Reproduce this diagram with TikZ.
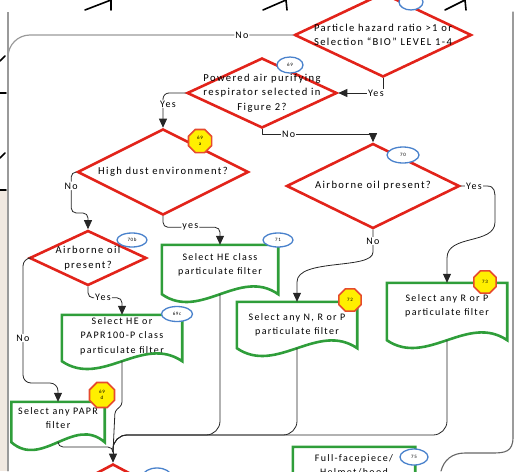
\documentclass[tikz,border=0pt]{standalone}
\usepackage{fontspec}
\setmainfont{Carlito}[LetterSpace=13]
\usetikzlibrary{shapes.geometric,arrows.meta,calc}
\definecolor{flowred}{HTML}{E2231A}
\definecolor{flowgreen}{HTML}{2F9E3A}
\definecolor{flowblue}{HTML}{4A82CC}
\definecolor{octyellow}{HTML}{FFEF00}
\definecolor{octedge}{HTML}{E64A2E}
\definecolor{framegrey}{HTML}{9A9A9A}
\definecolor{pagetint}{HTML}{F1E9E1}
\tikzstyle{every node}=[font=\fontsize{10}{14.5}\selectfont]
\tikzstyle{decision}=[diamond,draw=flowred,line width=2.6pt,line join=miter,inner sep=0pt]
\tikzstyle{dtext}=[align=center,font=\fontsize{10.6}{14.5}\selectfont]
\tikzstyle{docbox}=[rectangle,inner sep=0pt]
\tikzstyle{doctext}=[align=center]
\tikzstyle{docline}=[draw=flowgreen,line width=2.6pt,line join=miter]
\tikzstyle{tagoval}=[ellipse,draw=flowblue,fill=white,line width=1.3pt,inner sep=0pt,minimum width=28pt,minimum height=16pt,font=\fontsize{5}{6}\selectfont]
\tikzstyle{tagoct}=[regular polygon,regular polygon sides=8,draw=octedge,fill=octyellow,line width=1.6pt,inner sep=0pt,minimum size=25pt,align=center,font=\fontsize{5}{5.5}\selectfont]
\tikzstyle{flow}=[draw=black!85,line width=0.8pt,line cap=round,line join=round]
\tikzstyle{flowarrow}=[flow,-{Triangle[length=9pt,width=8pt]}]
\tikzstyle{lbl}=[fill=white,inner sep=1pt]

% outline of a document box, wavy bottom
\newcommand{\docoutline}[1]{%
  \draw[docline] (#1.north west) -- (#1.north east) -- (#1.south east)
    .. controls ($(#1.south east)!0.33!(#1.south west)+(0,-27)$) and ($(#1.south east)!0.67!(#1.south west)+(0,27)$) .. (#1.south west) -- cycle;}

\begin{document}
\begin{tikzpicture}[x=1pt,y=-1pt]
    \useasboundingbox (0,0) rectangle (526,471);
    \clip (0,0) rectangle (526,471);

    % page edge and stray marks
    \fill[pagetint] (0,190) rectangle (7,471);
    \draw[framegrey,line width=1.3pt] (8,12) -- (8,471);
    \draw[black,line width=1.6pt,line cap=round]
        (85,10) -- (111,0) -- (111,10)
        (263,10) -- (286,0) -- (287,10)
        (445,10) -- (465,0) -- (466,10)
        (0,61) -- (5,56)  (0,93) -- (6,93)
        (0,158) -- (5,153)  (0,190) -- (6,190);

    % decisions
    \node[decision,minimum width=177pt,minimum height=84pt,label={[dtext]center:Particle hazard ratio >1 or\\Selection “BIO” LEVEL 1-4}] (hazard) at (383,35) {};
    \node[decision,minimum width=150pt,minimum height=70pt,label={[dtext]center:Powered air purifying\\respirator selected in\\Figure 2?}] (papr) at (262,93) {};
    \node[decision,minimum width=171pt,minimum height=86pt,label={[dtext]center:High dust environment?}] (dust) at (163,172) {};
    \node[decision,minimum width=173pt,minimum height=85pt,label={[dtext]center:Airborne oil present?}] (oil) at (373,186) {};
    \node[decision,minimum width=117pt,minimum height=55pt,label={[dtext]center:Airborne oil\\present?}] (oilb) at (88,258) {};
    \node[decision,minimum width=150pt,minimum height=80pt] (lastdec) at (113,504) {};

    % filter boxes
    \node[docbox,minimum width=116pt,minimum height=49pt,label={[doctext,yshift=4.5pt]center:Select HE class\\particulate filter}] (heclass) at (220,269.5) {};
    \node[docbox,minimum width=120pt,minimum height=46pt,label={[doctext]center:{Select any N, R or P\\particulate filter}}] (nrp) at (297,325) {};
    \node[docbox,minimum width=120pt,minimum height=57pt,label={[doctext,yshift=5.5pt]center:Select any R or P\\particulate filter}] (rp) at (447,311.5) {};
    \node[docbox,minimum width=120pt,minimum height=46pt,label={[doctext,yshift=2pt]center:Select HE or\\PAPR100-P class\\particulate filter}] (hepapr) at (122,338) {};
    \node[docbox,minimum width=93pt,minimum height=40pt,label={[doctext,yshift=4pt]center:Select any PAPR\\filter}] (paprf) at (58,422) {};
    \node[docbox,minimum width=122pt,minimum height=36pt,label={[doctext]center:Full-facepiece/\\Helmet/hood}] (fullface) at (354,465) {};
    \docoutline{heclass}
    \docoutline{nrp}
    \docoutline{rp}
    \docoutline{hepapr}
    \docoutline{paprf}
    \docoutline{fullface}

    % connectors
    \coordinate (noend) at (8,471);
    \coordinate (rtop) at (513,12);
    \coordinate (rend) at (441,471);
    \coordinate (merge) at (113,452);
    \draw[flow,draw=framegrey,line width=1.2pt,rounded corners=22pt] (hazard.west) -- node[lbl,pos=0.18]{No} (8,35) -- (noend);
    \draw[flow,draw=black!60,line width=1.1pt] (rtop) -- (513,437) .. controls (513,452) and (505,453) .. (492,453) -- (465,453) .. controls (452,453) and (444,460) .. (rend);
    \draw[flowarrow] (hazard.south) |- node[lbl,pos=0.58]{Yes} (papr.east);
    \draw[flowarrow,rounded corners=6pt] (papr.west) -| node[lbl,pos=0.66,xshift=5pt]{Yes} (dust.north);
    \draw[flowarrow] (papr.south) -- ++(0,5) -| node[lbl,pos=0.12]{No} (oil.north);
    \draw[flowarrow,rounded corners=5pt] (dust.west) -- ++(-5,0) -- node[lbl,pos=0.34]{No} ++(0,41) -| (oilb.north);
    \draw[flowarrow,rounded corners=5pt] (dust.south) -- ++(0,11) -| node[lbl,pos=0.24]{yes} (heclass.north);
    \draw[flowarrow] (oil.east) -- node[lbl,pos=0.5]{Yes} (487,186) .. controls (495,186) and (495,192) .. (495,200) -- (495,222) .. controls (495,245) and (447,234) .. (447,258) -- (rp.north);
    \draw[flowarrow] (oil.south) -- node[lbl]{No} (373,252) .. controls (373,270) and (297,258) .. (297,282) -- (nrp.north);
    \draw[flowarrow,rounded corners=8pt] (oilb.west) -- (23,258) -- node[lbl,pos=0.64]{No} (23,383) -- (58,383) -- (paprf.north);
    \draw[flowarrow,rounded corners=5pt] (oilb.south) -- ++(0,11) -| node[lbl,pos=0.22]{Yes} (hepapr.north);
    \draw[flow,rounded corners=14pt] (rp.south) -- (447,435) -- (113,435) -- (merge);
    \draw[flow,rounded corners=14pt] (nrp.south) -- (297,435) -- (113,435) -- (merge);
    \draw[flow,rounded corners=14pt] (heclass.south) -- (220,435) -- (113,435) -- (merge);
    \draw[flow,rounded corners=3pt] (hepapr.south) -- (122,405) -- (115,411) -- (merge);
    \draw[flow,rounded corners=5pt] (paprf.south) -- (58,447) -- (113,447) -- (merge);
    \draw[flowarrow] (merge) -- (lastdec.north);

    % step tags
    \node[tagoval,minimum width=24pt] (tag68) at (411,2) {};
    \node[tagoval,minimum width=26pt] (tag69) at (290,65) {69};
    \node[tagoct] (tag69a) at (200,141) {69\\a};
    \node[tagoval,minimum width=32pt] (tag70) at (403,155) {70};
    \node[tagoval,minimum width=30pt,minimum height=14pt] (tag70b) at (132,240) {70b};
    \node[tagoval,minimum width=30pt,minimum height=14pt] (tag71) at (278,240) {71};
    \node[tagoct,minimum size=24pt] (tag72) at (350,300) {72};
    \node[tagoct,minimum size=24pt] (tag73) at (485,282) {73};
    \node[tagoval,minimum width=31pt,minimum height=15pt] (tag69c) at (177,314) {69c};
    \node[tagoct,minimum size=27pt] (tag69d) at (102,395) {69\\d};
    \node[tagoval] (tag75) at (414,457) {75};
    \node[tagoval] (tagend) at (157,476) {};
\end{tikzpicture}
\end{document}
